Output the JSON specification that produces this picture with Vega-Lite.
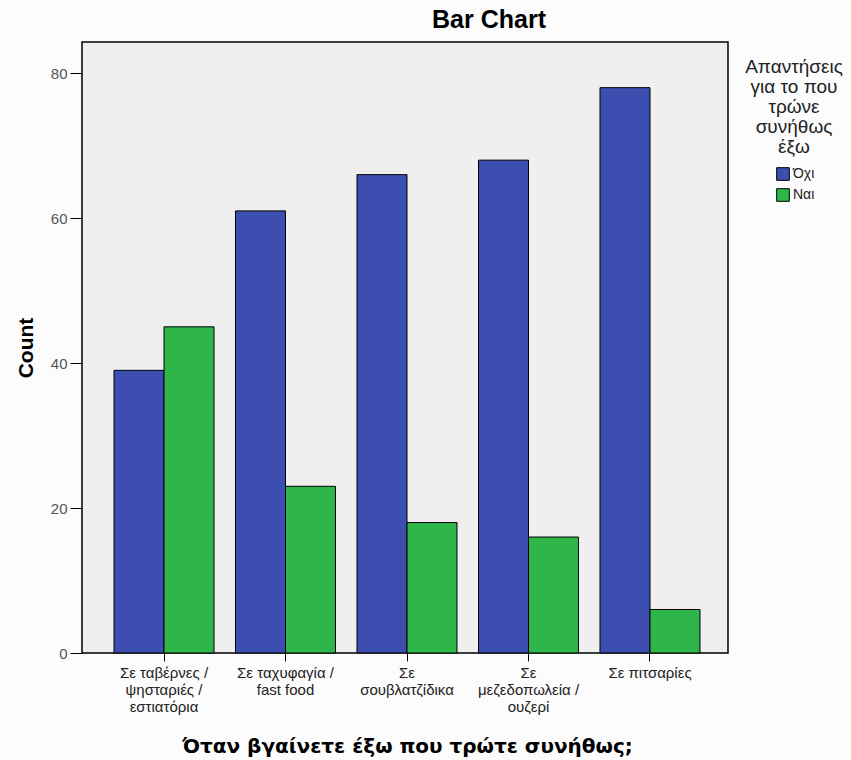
{
  "$schema": "https://vega.github.io/schema/vega-lite/v6.json",
  "width": 646,
  "height": 611,
  "autosize": "none",
  "padding": {"left": 82, "top": 42, "right": 123, "bottom": 107},
  "background": "#fcfcfc",
  "title": {
    "text": "Bar Chart",
    "font": "Liberation Sans",
    "fontSize": 25,
    "fontWeight": "bold",
    "color": "#000000",
    "anchor": "middle",
    "dx": 84,
    "offset": 9
  },
  "data": {
    "values": [
      {"place": "Σε ταβέρνες / ψησταριές / εστιατόρια", "answer": "Όχι", "count": 39},
      {"place": "Σε ταβέρνες / ψησταριές / εστιατόρια", "answer": "Ναι", "count": 45},
      {"place": "Σε ταχυφαγία / fast food", "answer": "Όχι", "count": 61},
      {"place": "Σε ταχυφαγία / fast food", "answer": "Ναι", "count": 23},
      {"place": "Σε σουβλατζίδικα", "answer": "Όχι", "count": 66},
      {"place": "Σε σουβλατζίδικα", "answer": "Ναι", "count": 18},
      {"place": "Σε μεζεδοπωλεία / ουζερί", "answer": "Όχι", "count": 68},
      {"place": "Σε μεζεδοπωλεία / ουζερί", "answer": "Ναι", "count": 16},
      {"place": "Σε πιτσαρίες", "answer": "Όχι", "count": 78},
      {"place": "Σε πιτσαρίες", "answer": "Ναι", "count": 6}
    ]
  },
  "mark": {"type": "bar", "stroke": "#000000", "strokeWidth": 1},
  "encoding": {
    "x": {
      "field": "place",
      "type": "nominal",
      "sort": null,
      "scale": {"paddingInner": 0.177, "paddingOuter": 0.247, "range": [2, 648]},
      "axis": {
        "title": "Όταν βγαίνετε έξω που τρώτε συνήθως;",
        "titleFont": "DejaVu Sans",
        "titleFontSize": 20,
        "titleFontWeight": "bold",
        "titleColor": "#000000",
        "titlePadding": 22,
        "labelAngle": 0,
        "labelFont": "Liberation Sans",
        "labelFontSize": 15,
        "labelColor": "#222222",
        "labelLineHeight": 17,
        "labelPadding": 4,
        "tickSize": 8,
        "tickColor": "#000000",
        "domain": false,
        "labelExpr": "{'Σε ταβέρνες / ψησταριές / εστιατόρια': ['Σε ταβέρνες /', 'ψησταριές /', 'εστιατόρια'], 'Σε ταχυφαγία / fast food': ['Σε ταχυφαγία /', 'fast food'], 'Σε σουβλατζίδικα': ['Σε', 'σουβλατζίδικα'], 'Σε μεζεδοπωλεία / ουζερί': ['Σε', 'μεζεδοπωλεία /', 'ουζερί'], 'Σε πιτσαρίες': ['Σε πιτσαρίες']}[datum.label]"
      }
    },
    "xOffset": {"field": "answer", "type": "nominal", "sort": ["Όχι", "Ναι"], "scale": {"paddingInner": 0, "paddingOuter": 0}},
    "y": {
      "field": "count",
      "type": "quantitative",
      "scale": {"domain": [0, 84.3], "nice": false},
      "axis": {
        "title": "Count",
        "titleFont": "Liberation Sans",
        "titleFontSize": 21,
        "titleFontWeight": "bold",
        "titleColor": "#000000",
        "titlePadding": 14,
        "values": [0, 20, 40, 60, 80],
        "labelFont": "Liberation Sans",
        "labelFontSize": 15,
        "labelColor": "#555555",
        "labelPadding": 3,
        "tickSize": 12,
        "tickColor": "#000000",
        "grid": false,
        "domain": false
      }
    },
    "color": {
      "field": "answer",
      "type": "nominal",
      "sort": ["Όχι", "Ναι"],
      "scale": {"domain": ["Όχι", "Ναι"], "range": ["#3c4fb0", "#2fb64a"]},
      "legend": {
        "orient": "none",
        "legendX": 663,
        "legendY": 16,
        "title": ["Απαντήσεις", "για το που", "τρώνε", "συνήθως", "έξω"],
        "titleFont": "Liberation Sans",
        "titleFontSize": 19,
        "titleFontWeight": "normal",
        "titleColor": "#222222",
        "titleAlign": "center",
        "titleAnchor": "middle",
        "titleLineHeight": 20,
        "titlePadding": 10,
        "labelFont": "Liberation Sans",
        "labelFontSize": 14,
        "labelColor": "#222222",
        "labelOffset": 3,
        "symbolType": "square",
        "symbolSize": 160,
        "symbolOffset": 2,
        "symbolStrokeColor": "#000000",
        "symbolStrokeWidth": 1,
        "rowPadding": 3,
        "padding": 0
      }
    }
  },
  "config": {
    "view": {"fill": "#efefef", "stroke": "#000000", "strokeWidth": 1.5}
  }
}
